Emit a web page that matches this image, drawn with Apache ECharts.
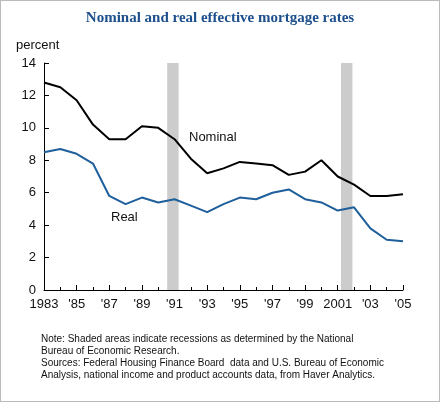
<!DOCTYPE html>
<html>
<head>
<meta charset="utf-8">
<script src="https://cdn.jsdelivr.net/npm/echarts@6/dist/echarts.min.js"></script>
<style>
  html, body { margin: 0; padding: 0; background: #fff; }
  #chart { width: 440px; height: 402px; box-sizing: border-box; border: 1px solid #bbb; }
</style>
</head>
<body>
<div id="chart"></div>
<script>
var years = [1983, 1984, 1985, 1986, 1987, 1988, 1989, 1990, 1991, 1992, 1993, 1994,
  1995, 1996, 1997, 1998, 1999, 2000, 2001, 2002, 2003, 2004, 2005];
var nominal = [12.8, 12.5, 11.7, 10.2, 9.3, 9.3, 10.1, 10.0, 9.3, 8.1, 7.2, 7.5,
  7.9, 7.8, 7.7, 7.1, 7.3, 8.0, 7.0, 6.5, 5.8, 5.8, 5.9];
var real = [8.5, 8.7, 8.4, 7.8, 5.8, 5.3, 5.7, 5.4, 5.6, 5.2, 4.8, 5.3,
  5.7, 5.6, 6.0, 6.2, 5.6, 5.4, 4.9, 5.1, 3.8, 3.1, 3.0];
var recessions = [[1990.55, 1991.25], [2001.2, 2001.9]];
var yearLabels = { 1983: '1983', 2001: '2001' };

function pairs(vals) {
  return vals.map(function (v, i) { return [years[i], v]; });
}

var chart = echarts.init(document.getElementById('chart'));
chart.setOption({
  animation: false,
  textStyle: { fontFamily: 'Liberation Sans, Arial, sans-serif' },
  title: {
    text: 'Nominal and real effective mortgage rates',
    left: 'center', top: 5,
    textStyle: { fontFamily: 'Liberation Serif, serif', fontSize: 15, fontWeight: 'bold', color: '#1d4f8c' }
  },
  graphic: [
    { type: 'text', left: 15, top: 38, style: { text: 'percent', fontSize: 13, fill: '#111', fontFamily: 'Liberation Sans, Arial' } },
    { type: 'text', left: 188, top: 130, style: { text: 'Nominal', fontSize: 13, fill: '#111', fontFamily: 'Liberation Sans, Arial' } },
    { type: 'text', left: 110, top: 210, style: { text: 'Real', fontSize: 13, fill: '#111', fontFamily: 'Liberation Sans, Arial' } },
    { type: 'text', left: 40, top: 332, style: {
      text: 'Note: Shaded areas indicate recessions as determined by the National\nBureau of Economic Research.\nSources: Federal Housing Finance Board  data and U.S. Bureau of Economic\nAnalysis, national income and product accounts data, from Haver Analytics.',
      fontSize: 10, lineHeight: 12, fill: '#111', fontFamily: 'Liberation Sans, Arial' } }
  ],
  grid: { left: 43, right: 36, top: 62, bottom: 111 },
  xAxis: {
    type: 'value', min: 1983, max: 2005, interval: 2,
    axisLine: { lineStyle: { color: '#000' } },
    axisTick: { inside: true, length: 5, lineStyle: { color: '#000' } },
    minorTick: { show: true, splitNumber: 2, length: 3, lineStyle: { color: '#000' } },
    splitLine: { show: false },
    axisLabel: {
      color: '#111', fontSize: 13, margin: 8,
      formatter: function (v) { return yearLabels[v] || "'" + String(v).slice(2); }
    }
  },
  yAxis: {
    type: 'value', min: 0, max: 14, interval: 2,
    axisLine: { show: true, lineStyle: { color: '#000' } },
    axisTick: { show: true, inside: true, length: 5, lineStyle: { color: '#000' } },
    splitLine: { show: false },
    axisLabel: { color: '#111', fontSize: 13, margin: 8 }
  },
  series: [
    {
      type: 'line', data: pairs(nominal), symbol: 'none',
      lineStyle: { color: '#000', width: 2 },
      markArea: {
        silent: true,
        itemStyle: { color: '#cccccc' },
        data: recessions.map(function (r) { return [{ xAxis: r[0] }, { xAxis: r[1] }]; })
      },
      z: 3
    },
    {
      type: 'line', data: pairs(real), symbol: 'none',
      lineStyle: { color: '#1f5f9c', width: 2 }, z: 3
    }
  ]
});
</script>
</body>
</html>
